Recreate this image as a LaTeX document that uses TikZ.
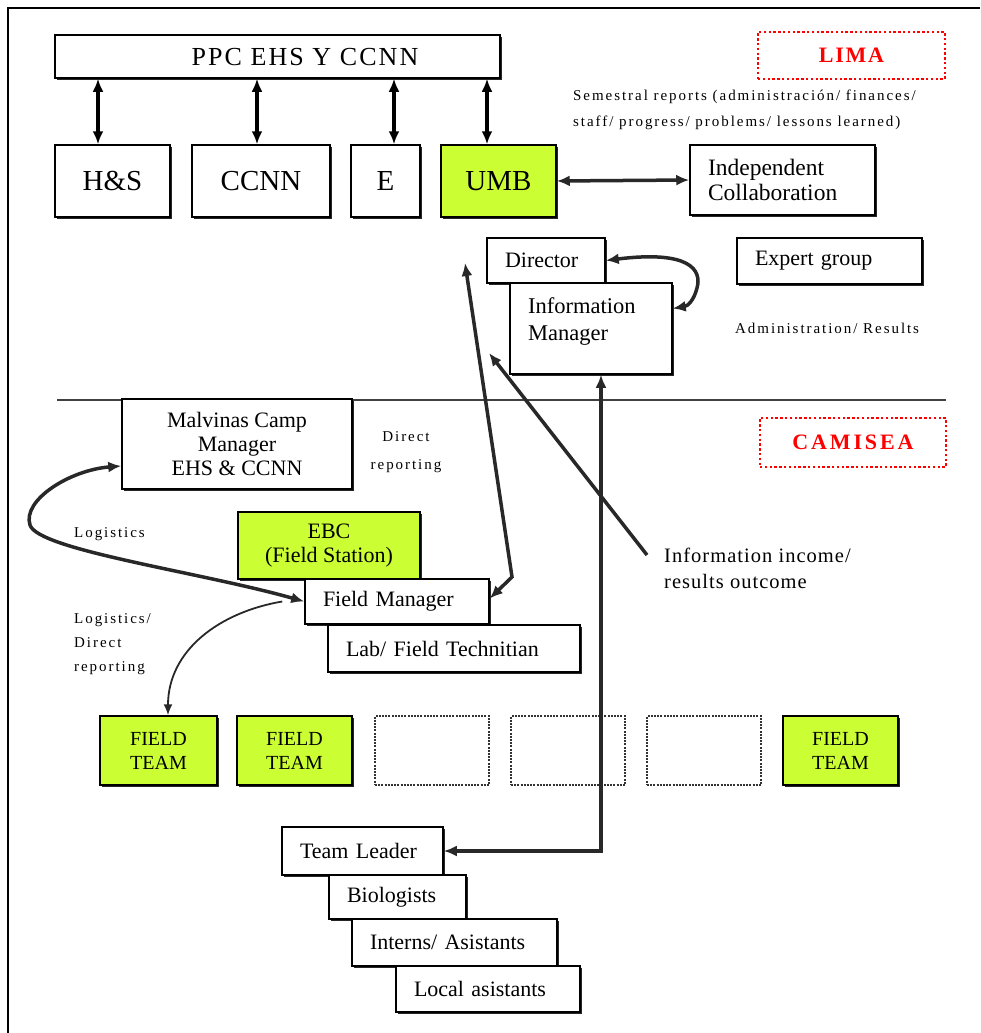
\documentclass[tikz,border=0pt]{standalone}
\usepackage{fontspec}
\setmainfont{Liberation Serif}
\newfontfamily\trackedfont[LetterSpace=13]{Liberation Serif}
\newfontfamily\widefont[LetterSpace=8]{Liberation Serif}
\newfontfamily\slightfont[LetterSpace=5]{Liberation Serif}
\usetikzlibrary{arrows.meta,shadows}
\definecolor{limegreen}{RGB}{204,255,51}
\definecolor{arrowgray}{RGB}{40,40,40}

\begin{document}
\begin{tikzpicture}[x=1pt,y=-1pt,
  box/.style={rectangle, draw=black, line width=1.5pt, fill=white, inner sep=0pt,
    font=\fontsize{22}{25}\selectfont,
    drop shadow={shadow xshift=1.6pt, shadow yshift=-1.6pt, fill=black, opacity=0.85}},
  lbox/.style={box, align=left, inner xsep=18pt},
  cbox/.style={box, align=center},
  bigbox/.style={cbox, font=\fontsize{29}{34}\selectfont},
  hilite/.style={fill=limegreen},
  teambox/.style={cbox, fill=limegreen, minimum height=69pt, font=\fontsize{20}{24}\selectfont},
  emptybox/.style={rectangle, draw=black!80, line width=1.6pt, dash pattern=on 2pt off 1.2pt,
    minimum height=69pt},
  region/.style={rectangle, draw=red, line width=2.2pt, dash pattern=on 2.4pt off 2.4pt,
    text=red, inner sep=0pt, font=\widefont\bfseries\fontsize{22}{26}\selectfont},
  lbl/.style={inner sep=0pt, font=\trackedfont\fontsize{15}{26}\selectfont},
  biglink/.style={line width=4.2pt, draw=black, >={Latex[length=13pt,width=11pt]}, <->},
  link/.style={line width=3.5pt, draw=arrowgray, >={Latex[length=13pt,width=11pt]}},
  thinlink/.style={line width=1.8pt, draw=arrowgray, >={Latex[length=11pt,width=9pt]}}
]
\useasboundingbox (0,0) rectangle (980,1033);

% outer frame and the line between the two sites
\draw[line width=2.4pt] (8,1033) -- (8,8) -- (980,8);
\draw[line width=2.4pt, draw=black!75] (57,400) -- (946,400);

% ---- LIMA ----
\node[box, minimum width=445pt, minimum height=43pt] (ppc) at (277.5,56.5) {};
\node[inner sep=0pt, font=\widefont\fontsize{26}{30}\selectfont] (ppctext) at (305,57) {PPC EHS Y CCNN};
\node[region, minimum width=187pt, minimum height=47pt] (lima) at (851.5,55.5) {LIMA};

\node[bigbox, minimum width=115pt, minimum height=72pt] (hs) at (112.5,181) {H\&S};
\node[bigbox, minimum width=138pt, minimum height=72pt] (ccnn) at (261,181) {CCNN};
\node[bigbox, minimum width=69pt, minimum height=72pt] (e) at (385.5,181) {E};
\node[bigbox, hilite, minimum width=115pt, minimum height=72pt] (umb) at (498.5,181) {UMB};
\node[lbox, text width=149pt, minimum height=70pt, font=\fontsize{23.5}{25}\selectfont]
  (ic) at (782.5,180) {Independent\\Collaboration};

\node[lbl, anchor=west] (sem1) at (573,97) {Semestral reports (administración/ finances/};
\node[lbl, anchor=west] (sem2) at (573,123) {staff/ progress/ problems/ lessons learned)};

\node[lbox, text width=82pt, minimum height=45pt] (dir) at (546,260.5) {Director};
\node[box, minimum width=162pt, minimum height=91pt] (im) at (591,328.5) {};
\node[anchor=north west, align=left, inner sep=0pt, font=\fontsize{22.5}{27}\selectfont]
  (imtext) at (528,297) {Information\\Manager};
\node[lbox, text width=149pt, minimum height=46pt] (eg) at (829.5,261) {Expert group};
\node[lbl, anchor=west] (admres) at (735,328) {Administration/ Results};

% ---- CAMISEA ----
\node[region, minimum width=186pt, minimum height=49pt,
      font=\trackedfont\bfseries\fontsize{22}{26}\selectfont] (camisea) at (853,442.5) {CAMISEA};
\node[cbox, minimum width=230pt, minimum height=90pt, font=\fontsize{22}{24}\selectfont]
  (mal) at (237,444) {Malvinas Camp\\Manager\\EHS \& CCNN};
\node[lbl, align=center, font=\trackedfont\fontsize{15}{28}\selectfont] (direct) at (406,452) {Direct\\reporting};

\node[cbox, hilite, minimum width=182pt, minimum height=67pt, font=\fontsize{22}{24}\selectfont]
  (ebc) at (329,545.5) {EBC\\(Field Station)};
\node[lbox, text width=148pt, minimum height=45pt] (fm) at (397,601.5) {Field Manager};
\node[lbox, text width=216pt, minimum height=47pt] (lab) at (454,648.5) {Lab/ Field Technitian};

\node[lbl, anchor=west] (logi) at (74,534) {Logistics};
\node[lbl, anchor=west, align=left, font=\trackedfont\fontsize{15}{24}\selectfont]
  (logdir) at (74,644) {Logistics/\\Direct\\reporting};
\node[anchor=west, align=left, inner sep=0pt, font=\slightfont\fontsize{20.5}{26}\selectfont]
  (info) at (664,568) {Information income/\\results outcome};

% field teams
\node[teambox, minimum width=117pt] (ft1) at (158.5,750.5) {FIELD\\TEAM};
\node[teambox, minimum width=115pt] (ft2) at (294.5,750.5) {FIELD\\TEAM};
\node[emptybox, minimum width=114pt] (ft3) at (432,750.5) {};
\node[emptybox, minimum width=114pt] (ft4) at (568,750.5) {};
\node[emptybox, minimum width=114pt] (ft5) at (704,750.5) {};
\node[teambox, minimum width=115pt] (ft6) at (840.5,750.5) {FIELD\\TEAM};

% team staff
\node[lbox, text width=125pt, minimum height=48pt] (tl) at (362.5,851) {Team Leader};
\node[lbox, text width=101pt, minimum height=44pt] (bio) at (397.5,897) {Biologists};
\node[lbox, text width=169pt, minimum height=47pt] (int) at (454.5,942.5) {Interns/ Asistants};
\node[lbox, text width=148pt, minimum height=46pt] (loc) at (488,989) {Local asistants};

% ---- connectors ----
\draw[biglink] ([xshift=-14.5pt]hs.north) -- ([xshift=-14.5pt]hs.north |- ppc.south);
\draw[biglink] ([xshift=-4pt]ccnn.north) -- ([xshift=-4pt]ccnn.north |- ppc.south);
\draw[biglink] ([xshift=8.5pt]e.north) -- ([xshift=8.5pt]e.north |- ppc.south);
\draw[biglink] ([xshift=-11.5pt]umb.north) -- ([xshift=-11.5pt]umb.north |- ppc.south);

\draw[link, <->] (umb.east) -- (ic.west);

\draw[link, <->] (dir.east) .. controls (690,250) and (702,270) .. (697,288)
  .. controls (694,300) and (688,306) .. ([yshift=20pt]im.east);

\coordinate (dirlink) at (465,263);
\draw[link, <->] (dirlink) -- (512,577) -- ([yshift=3pt]fm.east);

\coordinate (infofoot) at (647,555);
\coordinate (infohead) at (489,353);
\draw[link, ->] (infofoot) -- (infohead);

\draw[link, <->] (tl.east) -| ([xshift=10pt]im.south);

\draw[link, <->] ([yshift=-22pt]mal.west) .. controls (70,470) and (22,500) .. (30,525)
  .. controls (38,550) and (200,572) .. (fm.west);
\draw[thinlink, ->] ([xshift=-22pt]fm.west) .. controls (220,612) and (168,650) .. ([xshift=9.5pt]ft1.north);
\end{tikzpicture}
\end{document}
